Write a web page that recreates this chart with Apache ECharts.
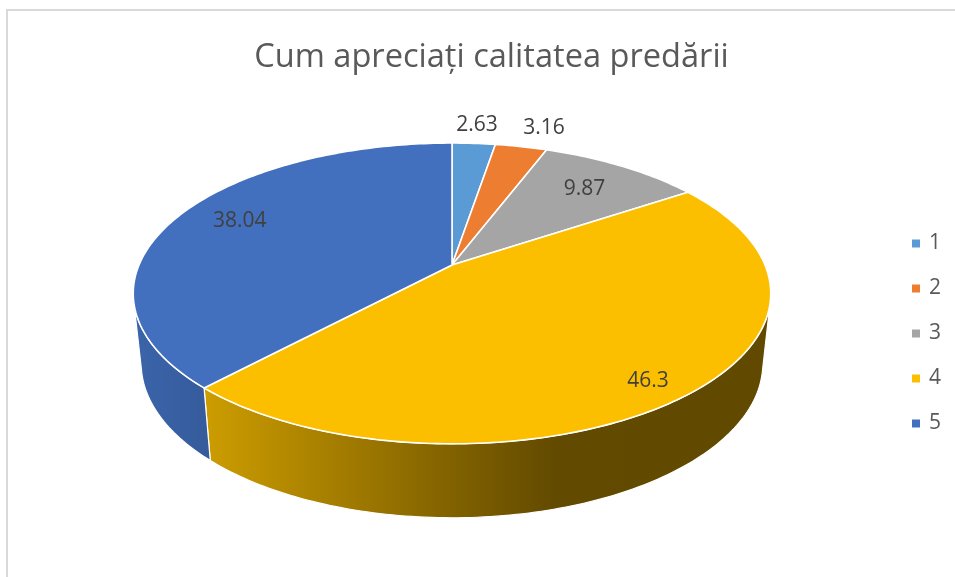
<!DOCTYPE html>
<html>
<head>
<meta charset="utf-8">
<style>html,body{margin:0;padding:0;background:#fff}#c{width:955px;height:577px}</style>
<script src="https://cdn.jsdelivr.net/npm/echarts@6/dist/echarts.min.js"></script>
</head>
<body>
<div id="c"></div>
<script>
const titleText = 'Cum apreciați calitatea predării';
const categories = ['1', '2', '3', '4', '5'];
const values = [2.63, 3.16, 9.87, 46.3, 38.04];
const colors = ['#5b9bd5', '#ed7d31', '#a5a5a5', '#fcbf00', '#4270be'];

// Perspective projection of the disc (layout only; no data in here)
const view = {
  cx: 452, cy: 265, rx: 313, ry: 145, k: -0.189,
  bottomScaleX: 0.975, bottomScaleY: 1.025, bottomCy: 334.5, minVisibleV: 0.22
};
const labelRadius = [1.185, 1.214, 0.754, 0.879, 0.788];
const labelTurn = [0, 2, 0, 2, 2.6];
const total = values.reduce((a, b) => a + b, 0);
const starts = values.map((_, i) => values.slice(0, i).reduce((a, b) => a + b, 0) / total * Math.PI * 2);

function topPoint(r, a) {
  const u = r * Math.sin(a), v = -r * Math.cos(a), d = 1 + view.k * v;
  return [view.cx + view.rx * u / d, view.cy + view.ry * v / d];
}
function bottomPoint(a) {
  const u = Math.sin(a), v = -Math.cos(a), d = 1 + view.k * v;
  return [view.cx + view.bottomScaleX * view.rx * u / d,
          view.bottomCy + view.bottomScaleY * view.ry * v / d];
}
function arcAngles(a0, a1) {
  const n = Math.max(2, Math.ceil((a1 - a0) / (Math.PI / 180)));
  const out = [];
  for (let i = 0; i <= n; i++) out.push(a0 + (a1 - a0) * i / n);
  return out;
}
const sideFill = {
  3: new echarts.graphic.LinearGradient(0, 0, 1, 0, [
    {offset: 0, color: '#cd9d00'}, {offset: 0.45, color: '#7f6000'},
    {offset: 0.62, color: '#624a00'}, {offset: 1, color: '#614a00'}]),
  4: new echarts.graphic.LinearGradient(0, 0, 1, 0, [
    {offset: 0, color: '#3b64aa'}, {offset: 1, color: '#355b9b'}])
};

function renderWall(params, api) {
  const i = params.dataIndex;
  const frac = api.value(0) / total * Math.PI * 2;
  const a0 = starts[i], a1 = a0 + frac;
  const vis = arcAngles(a0, a1).filter(a => -Math.cos(a) >= view.minVisibleV);
  if (vis.length < 2) return {type: 'group', children: []};
  const pts = vis.map(a => topPoint(1, a)).concat(vis.slice().reverse().map(bottomPoint));
  return {
    type: 'polygon',
    shape: {points: pts},
    style: {fill: sideFill[i] || colors[i], stroke: '#fff', lineWidth: 1.2}
  };
}
function renderTop(i) {
  return function (params, api) {
    const frac = api.value(0) / total * Math.PI * 2;
    const a0 = starts[i], a1 = a0 + frac;
    const pts = [[view.cx, view.cy]].concat(arcAngles(a0, a1).map(a => topPoint(1, a)));
    const lp = topPoint(labelRadius[i], a0 + frac / 2 + labelTurn[i] * Math.PI / 180);
    return {
      type: 'group',
      children: [
        {type: 'polygon', shape: {points: pts},
         style: {fill: colors[i], stroke: '#fff', lineWidth: 1.6, lineJoin: 'round'}},
        {type: 'text', z2: 10, x: lp[0], y: lp[1] + 0.5,
         style: {text: String(api.value(0)), fill: '#404040', font: '21px "Open Sans"',
                 align: 'center', verticalAlign: 'middle'}}
      ]
    };
  };
}

const series = [{
  type: 'custom', name: 'walls', coordinateSystem: 'none', silent: true, z: 1,
  renderItem: renderWall, data: values.map(v => [v])
}].concat(categories.map((c, i) => ({
  type: 'custom', name: c, coordinateSystem: 'none', silent: true, z: 2,
  itemStyle: {color: colors[i]},
  renderItem: renderTop(i), data: [[values[i]]]
})));

const chart = echarts.init(document.getElementById('c'), null, {renderer: 'canvas'});
chart.setOption({
  animation: false,
  backgroundColor: '#fff',
  title: {
    text: titleText, left: 486.5, top: 36, textAlign: 'center',
    textStyle: {fontFamily: 'Open Sans', fontSize: 32.6, fontWeight: 'normal', color: '#595959'}
  },
  legend: {
    orient: 'vertical', left: 907, top: 228, icon: 'rect', itemWidth: 8, itemHeight: 8,
    itemGap: 24, selectedMode: false, data: categories,
    textStyle: {fontFamily: 'Open Sans', fontSize: 21, color: '#595959', padding: [0, 0, 0, 4]}
  },
  graphic: [{
    type: 'rect', silent: true, z: -1,
    shape: {x: 7, y: 10, width: 1100, height: 800},
    style: {fill: 'none', stroke: '#d9d9d9', lineWidth: 2}
  }],
  series: series
});
</script>
</body>
</html>
